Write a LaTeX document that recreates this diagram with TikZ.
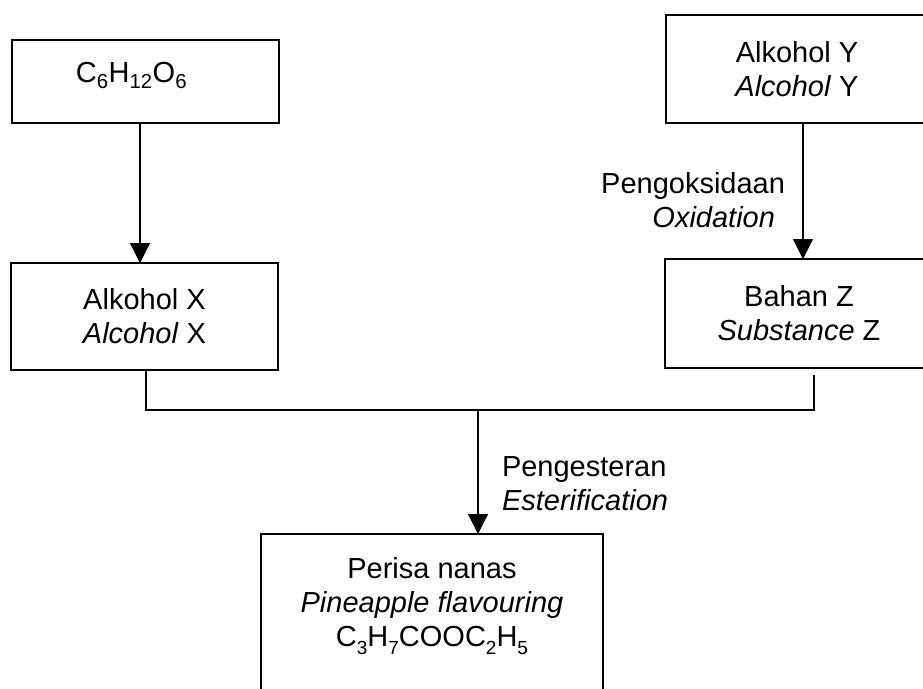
\documentclass[tikz,border=0pt]{standalone}
\usepackage{fontspec}
\setmainfont{Liberation Sans}
\usetikzlibrary{arrows.meta}
\newcommand{\lowsub}[1]{\raisebox{-0.28em}{\fontsize{19}{19}\selectfont #1}}
\begin{document}
\begin{tikzpicture}[x=1pt,y=-1pt,
  every node/.style={font=\fontsize{29}{34}\selectfont},
  box/.style={draw, line width=1.3pt, inner sep=0pt, outer sep=0pt, align=center},
  lbl/.style={inner sep=0pt, outer sep=0pt},
  conn/.style={line width=1.2pt},
  arr/.style={conn, -{Triangle[width=20pt,length=20pt]}}]
\useasboundingbox (0,0) rectangle (923,688);
\clip (0,0) rectangle (923,688);
\fill[white] (0,0) rectangle (923,688);
% boxes
\node[box, minimum width=267pt, minimum height=83pt,
  label={[lbl, xshift=-14pt, yshift=6pt]center:C\textsubscript{6}H\textsubscript{12}O\textsubscript{6}}]
  (glu) at (145.5,81.5) {};
\node[box, minimum width=262pt, minimum height=108pt] (ay) at (797,69) {Alkohol Y\\\textit{Alcohol} Y};
\node[box, minimum width=267pt, minimum height=107pt] (ax) at (144.5,316.5) {Alkohol X\\\textit{Alcohol} X};
\node[box, minimum width=268pt, minimum height=109pt] (bz) at (799,313.5) {Bahan Z\\\textit{Substance} Z};
\node[box, minimum width=342pt, minimum height=160pt,
  label={[lbl, align=center, yshift=8pt]center:Perisa nanas\\\textit{Pineapple flavouring}\\C\lowsub{3}H\lowsub{7}COOC\lowsub{2}H\lowsub{5}}]
  (pn) at (432,614) {};
% connector points
\coordinate (j1) at (146,410);
\coordinate (j2) at (814,410);
\coordinate (jm) at (478,410);
\coordinate (zb) at (814,375);
% connectors
\draw[arr] (glu.south -| 140,0) -- (ax.north -| 140,0);
\draw[arr] (ay.south -| 803,0) -- node[lbl, left=18pt, align=right, yshift=-9pt]{Pengoksidaan\\\textit{Oxidation}\hspace*{10pt}} (bz.north -| 803,0);
\draw[conn] (ax.south -| j1) -- (j1) -- (j2) -- (zb);
\draw[arr] (jm) -- node[lbl, right=24pt, align=left, yshift=-12pt]{Pengesteran\\\textit{Esterification}} (pn.north -| jm);
\end{tikzpicture}
\end{document}
